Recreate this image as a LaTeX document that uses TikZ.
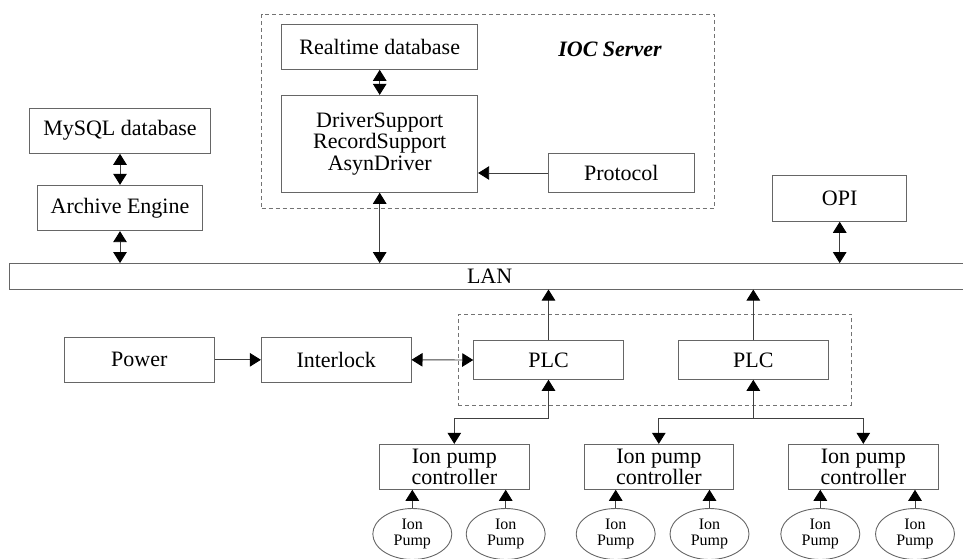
\documentclass[tikz,border=0pt]{standalone}
\usepackage{fontspec}
\setmainfont{Liberation Serif}
\usetikzlibrary{arrows.meta,shapes.geometric}
\begin{document}
\begin{tikzpicture}[x=1pt,y=-1pt,
  box/.style={draw=black!60, line width=0.9pt, inner sep=0pt, font=\fontsize{22}{21.7}\selectfont, align=center},
  pump/.style={draw=black!60, line width=0.9pt, ellipse, inner sep=0pt, minimum width=79pt, minimum height=51pt, font=\fontsize{16}{16.7}\selectfont, align=center},
  conn/.style={draw=black!75, line width=0.9pt},
  grp/.style={draw=black!55, dash pattern=on 4pt off 3pt, line width=0.9pt, inner sep=0pt},
  >={Triangle[length=11pt,width=13.5pt,color=black]}
]
\useasboundingbox (0,0) rectangle (963,558);

% groups
\node[grp, minimum width=452.6pt, minimum height=194pt] (iocgrp) at (488,111.3) {};
\node[grp, minimum width=393.4pt, minimum height=90.7pt] (plcgrp) at (655,359.65) {};
\node[font=\fontsize{22}{22}\selectfont\bfseries\itshape, inner sep=0pt] (ioclabel) at (610,49.3) {IOC Server};

% top boxes
\node[box, minimum width=196pt, minimum height=45.3pt] (rt) at (379.7,46.7) {Realtime database};
\node[box, minimum width=196pt, minimum height=97pt] (drv) at (379.7,143.8) {DriverSupport\\RecordSupport\\AsynDriver};
\node[box, minimum width=146pt, minimum height=38.6pt] (proto) at (621.3,173) {Protocol};
\node[box, minimum width=181.4pt, minimum height=45.3pt] (mysql) at (120,130.7) {MySQL database};
\node[box, minimum width=165pt, minimum height=45.4pt] (arch) at (120,208) {Archive Engine};
\node[box, minimum width=134pt, minimum height=45.6pt] (opi) at (839.7,198.5) {OPI};

% LAN
\node[inner sep=0pt, minimum width=960.7pt, minimum height=26pt, font=\fontsize{22}{22}\selectfont] (lan) at (489.65,276.3) {LAN};
\draw[draw=black!60, line width=0.9pt] (lan.north east) -- (lan.north west) -- (lan.south west) -- (lan.south east);

% middle row
\node[box, minimum width=150pt, minimum height=45pt] (power) at (139.3,359.8) {Power};
\node[box, minimum width=149.7pt, minimum height=45pt] (inter) at (336.2,359.8) {Interlock};
\node[box, minimum width=149.6pt, minimum height=38.6pt] (plc1) at (548.5,360) {PLC};
\node[box, minimum width=150pt, minimum height=38.6pt] (plc2) at (753.3,360) {PLC};

% controllers
\node[box, minimum width=150pt, minimum height=45pt] (ipc1) at (454.3,466.8) {Ion pump\\controller};
\node[box, minimum width=149pt, minimum height=45pt] (ipc2) at (658.8,466.8) {Ion pump\\controller};
\node[box, minimum width=150pt, minimum height=45pt] (ipc3) at (863.3,466.8) {Ion pump\\controller};

% pumps
\node[pump] (p1) at (412.3,534) {Ion\\Pump};
\node[pump] (p2) at (505.7,534) {Ion\\Pump};
\node[pump] (p3) at (615.7,534) {Ion\\Pump};
\node[pump] (p4) at (709.5,534) {Ion\\Pump};
\node[pump] (p5) at (820.3,534) {Ion\\Pump};
\node[pump] (p6) at (915,534) {Ion\\Pump};

% connectors
\draw[conn,<->] (mysql.south) -- (arch.north);
\draw[conn,<->] (arch.south) -- (arch.south |- lan.north);
\draw[conn,<->] (rt.south) -- (drv.north);
\draw[conn,<->] (drv.south) -- (drv.south |- lan.north);
\draw[conn,->] (proto.west) -- (proto.west -| drv.east);
\draw[conn,<->] (opi.south) -- (opi.south |- lan.north);
\draw[conn,->] (power.east) -- (inter.west);
\draw[conn,<->] (inter.east) -- (plc1.west);
\draw[conn,->] (plc1.north) -- (plc1.north |- lan.south);
\draw[conn,->] (plc2.north) -- (plc2.north |- lan.south);
\draw[conn,<->] (plc1.south) -- ++(0,38.4) -| (ipc1.north);
\path (plc2.south) ++(0,38.4) coordinate (j2);
\draw[conn,->] (j2) -- (plc2.south);
\draw[conn,->] (j2) -| (ipc2.north);
\draw[conn,->] (j2) -| (ipc3.north);
\foreach \p/\c in {p1/ipc1,p2/ipc1,p3/ipc2,p4/ipc2,p5/ipc3,p6/ipc3}
  \draw[conn,->] (\p.north) -- (\p.north |- \c.south);
\end{tikzpicture}
\end{document}
